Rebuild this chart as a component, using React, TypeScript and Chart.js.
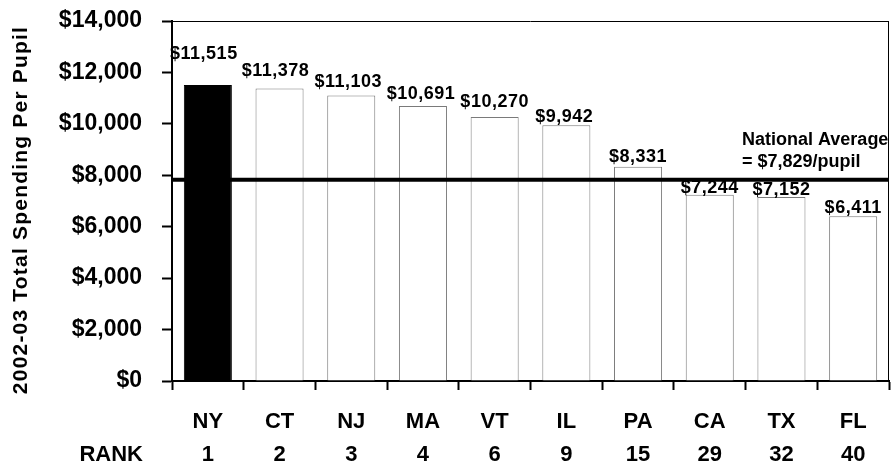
import React, { useEffect, useRef } from 'react';
import { Chart, registerables } from 'chart.js';

Chart.register(...registerables);

// ---- data ----
const states = ['NY', 'CT', 'NJ', 'MA', 'VT', 'IL', 'PA', 'CA', 'TX', 'FL'];
const spending = [11515, 11378, 11103, 10691, 10270, 9942, 8331, 7244, 7152, 6411];
const ranks = [1, 2, 3, 4, 6, 9, 15, 29, 32, 40];
const yMin = 0;
const yMax = 14000;
const yStep = 2000;
const nationalAverage = 7829;
const averageLabel = ['National Average', '= $7,829/pupil'];
const yTitle = '2002-03 Total Spending Per Pupil';
const rankTitle = 'RANK';
const highlightIndex = 0;

// ---- styling (label placement tweaks) ----
const labelGap = [26, 12, 8, 7, 10, 3, 5, 1.5, 2, 3];
const labelShift = [-4, -4, -3, -2, 0, -2, 0, 0, 0, 0];

const FONT = '"Liberation Sans", Arial, Helvetica, sans-serif';
const money = (v: number) => '$' + v.toLocaleString('en-US');

const overlay = {
  id: 'overlay',
  afterDatasetsDraw(chart: any) {
    const { ctx, chartArea: a, scales } = chart;
    const x = scales.x;
    const y = scales.y;
    ctx.save();
    // frame: top and right
    ctx.strokeStyle = '#000';
    ctx.lineWidth = 1;
    ctx.beginPath();
    ctx.moveTo(a.left, a.top + 0.5);
    ctx.lineTo(a.right, a.top + 0.5);
    ctx.moveTo(a.right - 0.5, a.top);
    ctx.lineTo(a.right - 0.5, a.bottom);
    ctx.stroke();

    // national average line
    const ya = y.getPixelForValue(nationalAverage);
    ctx.lineWidth = 4;
    ctx.beginPath();
    ctx.moveTo(a.left, ya);
    ctx.lineTo(a.right, ya);
    ctx.stroke();

    ctx.fillStyle = '#000';
    // value labels
    ctx.font = `bold 18px ${FONT}`;
    (ctx as any).letterSpacing = '0.5px';
    ctx.textAlign = 'center';
    ctx.textBaseline = 'alphabetic';
    const meta = chart.getDatasetMeta(0);
    meta.data.forEach((bar: any, i: number) => {
      ctx.fillText(money(spending[i]), bar.x + labelShift[i], bar.y - labelGap[i]);
    });

    // average annotation
    (ctx as any).letterSpacing = '0px';
    ctx.font = `bold 18px ${FONT}`;
    ctx.textAlign = 'left';
    ctx.textBaseline = 'middle';
    ctx.fillText(averageLabel[0], a.right - 147, ya - 40);
    ctx.fillText(averageLabel[1], a.right - 147, ya - 18);

    // rank row
    ctx.font = `bold 22px ${FONT}`;
    ctx.textAlign = 'center';
    ctx.textBaseline = 'middle';
    ranks.forEach((r, i) => {
      ctx.fillText(String(r), x.getPixelForValue(i), a.bottom + 74);
    });
    ctx.textAlign = 'right';
    ctx.fillText(rankTitle, a.left - 29, a.bottom + 74);

    // y-axis title
    ctx.save();
    ctx.translate(21, (a.top + a.bottom) / 2 + 9);
    ctx.rotate(-Math.PI / 2);
    ctx.font = `bold 21px ${FONT}`;
    (ctx as any).letterSpacing = '1.2px';
    ctx.textAlign = 'center';
    ctx.textBaseline = 'middle';
    ctx.fillText(yTitle, 0, 0);
    ctx.restore();

    ctx.restore();
  },
};

export default function App() {
  const ref = useRef<HTMLCanvasElement | null>(null);

  useEffect(() => {
    document.body.style.margin = '0';
    const canvas = ref.current;
    if (!canvas) return;
    Chart.defaults.font.family = FONT;
    const chart = new Chart(canvas, {
      type: 'bar',
      data: {
        labels: states,
        datasets: [
          {
            data: spending,
            backgroundColor: spending.map((_, i) => (i === highlightIndex ? '#000000' : '#ffffff')),
            borderColor: spending.map((_, i) => (i === highlightIndex ? '#000000' : '#7a7a7a')),
            borderWidth: 1,
            barPercentage: 0.67,
            categoryPercentage: 1,
          },
        ],
      },
      options: {
        responsive: false,
        animation: false,
        devicePixelRatio: 1,
        layout: { autoPadding: false, padding: { left: 0, top: 21, right: 4, bottom: 0 } },
        plugins: {
          legend: { display: false },
          tooltip: { enabled: false },
          title: { display: false },
        },
        scales: {
          x: {
            grid: {
              display: true,
              drawOnChartArea: false,
              offset: true,
              tickLength: 9,
              tickWidth: 2,
              tickColor: '#000',
            },
            border: { display: true, color: '#000', width: 2 },
            ticks: {
              color: '#000',
              font: { size: 22, weight: 'bold', family: FONT },
              padding: 19,
              maxRotation: 0,
              autoSkip: false,
            },
            afterFit: (s: any) => {
              s.height = 85;
              s.paddingLeft = 0;
              s.paddingRight = 0;
            },
          },
          y: {
            min: yMin,
            max: yMax,
            grid: {
              display: true,
              drawOnChartArea: false,
              tickLength: 10,
              tickWidth: 2,
              tickColor: '#000',
            },
            border: { display: true, color: '#000', width: 2 },
            ticks: {
              stepSize: yStep,
              color: '#000',
              font: { size: 23, weight: 'bold', family: FONT },
              padding: 20,
              callback: (v: any) => money(Number(v)),
            },
            afterFit: (s: any) => {
              s.width = 172;
              s.paddingTop = 0;
              s.paddingBottom = 0;
            },
          },
        },
      },
      plugins: [overlay],
    });
    return () => chart.destroy();
  }, []);

  return (
    <div style={{ width: 893, height: 466 }}>
      <canvas ref={ref} width={893} height={466} style={{ display: 'block' }} />
    </div>
  );
}
